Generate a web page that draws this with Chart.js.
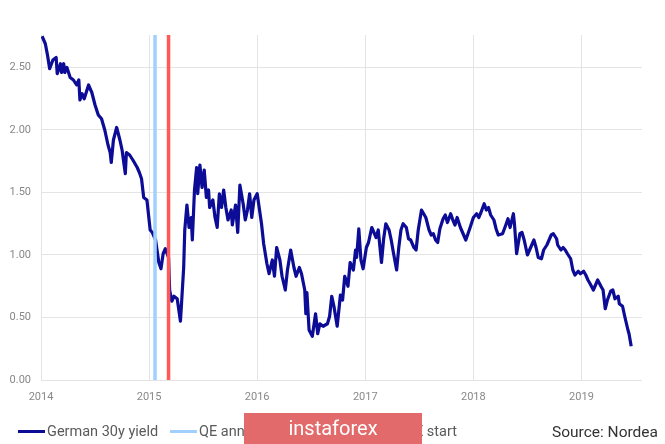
<!DOCTYPE html>
<html>
<head>
<meta charset="utf-8">
<title>German 30y yield</title>
<script src="https://cdn.jsdelivr.net/npm/chart.js@4.4.1/dist/chart.umd.min.js"></script>
<style>
    html, body { margin: 0; padding: 0; background: #fff; }
    #wrap { position: relative; width: 665px; height: 444px; overflow: hidden; font-family: Roboto, "Noto Sans", sans-serif; }
    #chart { position: absolute; left: 0; top: 0; }
    .legend-item { position: absolute; top: 421px; height: 20px; display: flex; align-items: center; font-size: 14.5px; color: #5a5a5a; white-space: nowrap; }
    .swatch { width: 27px; height: 3px; margin-right: 2px; }
    #source { position: absolute; right: 7px; top: 421px; line-height: 22px; font-size: 15.5px; color: #333; }
    #badge { position: absolute; left: 244px; top: 413px; width: 178px; height: 31px; line-height: 30px; background: #e26a6a; color: #fff; font-size: 20px; text-align: center; }
</style>
</head>
<body>
<div id="wrap">
    <canvas id="chart" width="665" height="444"></canvas>
    <div id="legend"></div>
    <div id="source">Source: Nordea</div>
    <div id="badge">instaforex</div>
</div>
<script>
// German 30y yield (decimal year, %)
const yieldDates = [
    2014.01, 2014.04, 2014.06, 2014.08, 2014.11, 2014.14, 2014.15, 2014.18, 2014.19, 2014.21,
    2014.22, 2014.24, 2014.27, 2014.30, 2014.33, 2014.35, 2014.36, 2014.38, 2014.40, 2014.44,
    2014.47, 2014.50, 2014.53, 2014.56, 2014.59, 2014.62, 2014.64, 2014.65, 2014.67, 2014.70,
    2014.73, 2014.75, 2014.78, 2014.79, 2014.82, 2014.85, 2014.89, 2014.91, 2014.93, 2014.95,
    2014.98, 2015.01, 2015.03, 2015.06, 2015.09, 2015.11, 2015.13, 2015.15, 2015.18, 2015.19,
    2015.21, 2015.23, 2015.26, 2015.29, 2015.30, 2015.32, 2015.33, 2015.35, 2015.37, 2015.39,
    2015.40, 2015.42, 2015.44, 2015.45, 2015.47, 2015.49, 2015.51, 2015.53, 2015.55, 2015.56,
    2015.59, 2015.61, 2015.63, 2015.65, 2015.67, 2015.69, 2015.71, 2015.73, 2015.76, 2015.77,
    2015.80, 2015.82, 2015.84, 2015.87, 2015.89, 2015.91, 2015.93, 2015.95, 2015.97, 2016.00,
    2016.02, 2016.04, 2016.06, 2016.09, 2016.11, 2016.14, 2016.16, 2016.18, 2016.21, 2016.23,
    2016.26, 2016.28, 2016.31, 2016.34, 2016.36, 2016.39, 2016.41, 2016.44, 2016.45, 2016.46,
    2016.48, 2016.51, 2016.54, 2016.56, 2016.58, 2016.61, 2016.65, 2016.67, 2016.69, 2016.71,
    2016.74, 2016.77, 2016.79, 2016.81, 2016.84, 2016.86, 2016.89, 2016.91, 2016.92, 2016.94,
    2016.96, 2016.98, 2017.01, 2017.03, 2017.06, 2017.08, 2017.10, 2017.12, 2017.15, 2017.17,
    2017.19, 2017.22, 2017.24, 2017.26, 2017.29, 2017.31, 2017.33, 2017.35, 2017.38, 2017.40,
    2017.42, 2017.45, 2017.47, 2017.49, 2017.52, 2017.54, 2017.56, 2017.59, 2017.61, 2017.63,
    2017.65, 2017.67, 2017.69, 2017.72, 2017.74, 2017.76, 2017.79, 2017.81, 2017.83, 2017.85,
    2017.88, 2017.90, 2017.93, 2017.97, 2018.00, 2018.03, 2018.05, 2018.07, 2018.10, 2018.12,
    2018.14, 2018.16, 2018.19, 2018.21, 2018.23, 2018.27, 2018.30, 2018.32, 2018.34, 2018.37,
    2018.38, 2018.40, 2018.43, 2018.45, 2018.47, 2018.50, 2018.52, 2018.54, 2018.56, 2018.58,
    2018.60, 2018.63, 2018.65, 2018.68, 2018.70, 2018.72, 2018.74, 2018.77, 2018.78, 2018.81,
    2018.83, 2018.85, 2018.87, 2018.90, 2018.92, 2018.94, 2018.97, 2018.99, 2019.02, 2019.04,
    2019.06, 2019.08, 2019.11, 2019.13, 2019.15, 2019.18, 2019.20, 2019.22, 2019.24, 2019.27,
    2019.29, 2019.31, 2019.34, 2019.35, 2019.38, 2019.40, 2019.43, 2019.44, 2019.46
];
const yieldValues = [
    2.75, 2.69, 2.60, 2.49, 2.56, 2.58, 2.45, 2.53, 2.46, 2.53,
    2.46, 2.50, 2.42, 2.40, 2.36, 2.40, 2.24, 2.29, 2.25, 2.36,
    2.30, 2.20, 2.12, 2.09, 2.00, 1.88, 1.82, 1.74, 1.92, 2.02,
    1.92, 1.84, 1.65, 1.82, 1.80, 1.76, 1.70, 1.66, 1.61, 1.46,
    1.44, 1.20, 1.18, 1.12, 0.94, 0.89, 1.01, 1.05, 0.98, 0.72,
    0.63, 0.67, 0.65, 0.47, 0.61, 0.90, 1.20, 1.40, 1.22, 1.30,
    1.12, 1.52, 1.70, 1.49, 1.72, 1.54, 1.68, 1.46, 1.52, 1.38,
    1.44, 1.30, 1.22, 1.49, 1.38, 1.52, 1.38, 1.28, 1.36, 1.24,
    1.40, 1.18, 1.56, 1.41, 1.28, 1.36, 1.49, 1.30, 1.44, 1.49,
    1.37, 1.25, 1.09, 0.93, 0.85, 0.96, 0.83, 1.06, 0.96, 0.83,
    0.72, 0.88, 1.04, 0.90, 0.83, 0.90, 0.85, 0.72, 0.53, 0.70,
    0.40, 0.35, 0.53, 0.37, 0.45, 0.43, 0.45, 0.51, 0.67, 0.59,
    0.43, 0.68, 0.64, 0.83, 0.75, 0.94, 0.88, 1.04, 0.98, 1.21,
    0.96, 0.89, 1.06, 1.10, 1.22, 1.18, 1.14, 1.20, 0.94, 1.13,
    1.25, 1.20, 1.12, 1.02, 0.88, 1.06, 1.20, 1.25, 1.22, 1.13,
    1.12, 1.06, 1.04, 1.20, 1.36, 1.33, 1.30, 1.20, 1.16, 1.17,
    1.12, 1.10, 1.21, 1.29, 1.32, 1.26, 1.33, 1.28, 1.24, 1.30,
    1.22, 1.18, 1.12, 1.22, 1.30, 1.33, 1.30, 1.34, 1.41, 1.36,
    1.38, 1.32, 1.28, 1.21, 1.16, 1.17, 1.24, 1.29, 1.22, 1.33,
    1.25, 1.01, 1.17, 1.18, 1.12, 1.00, 1.04, 1.08, 1.12, 1.06,
    0.98, 0.97, 1.04, 1.08, 1.12, 1.16, 1.17, 1.13, 1.08, 1.04,
    1.06, 1.04, 1.01, 0.97, 0.88, 0.84, 0.87, 0.85, 0.87, 0.84,
    0.80, 0.77, 0.72, 0.76, 0.80, 0.75, 0.72, 0.57, 0.64, 0.71,
    0.72, 0.65, 0.67, 0.61, 0.59, 0.51, 0.40, 0.37, 0.27
];

// ECB QE dates as decimal years (22 Jan 2015, 9 Mar 2015)
const qeAnnouncement = 2015.055;
const qeStart = 2015.18;

const yearTicks = [2014, 2015, 2016, 2017, 2018, 2019];
const yieldTicks = [0, 0.5, 1, 1.5, 2, 2.5];

const xMin = 2014;
const xMax = 2019.56;
const yMin = 0;
const yMax = 2.76;

const seriesNames = ["German 30y yield", "QE announcement", "QE start"];
const seriesColors = ["#0c0c96", "#9fd0ff", "#ff5858"];

const gridColor = "#e4e4e4";
const tickFont = { family: "Roboto", size: 11 };

function verticalLine(x) {
    return [{ x: x, y: yMin }, { x: x, y: yMax }];
}

const ctx = document.getElementById("chart").getContext("2d");
new Chart(ctx, {
    type: "line",
    data: {
        datasets: [
            {
                label: seriesNames[0],
                data: yieldDates.map((d, i) => ({ x: d, y: yieldValues[i] })),
                borderColor: seriesColors[0],
                borderWidth: 3.2,
                pointRadius: 0,
                tension: 0,
                borderJoinStyle: "round",
                order: 2
            },
            {
                label: seriesNames[1],
                data: verticalLine(qeAnnouncement),
                borderColor: seriesColors[1],
                borderWidth: 3.5,
                pointRadius: 0,
                order: 1
            },
            {
                label: seriesNames[2],
                data: verticalLine(qeStart),
                borderColor: seriesColors[2],
                borderWidth: 3.5,
                pointRadius: 0,
                order: 1
            }
        ]
    },
    options: {
        responsive: false,
        animation: false,
        layout: { padding: { top: 35, right: 23, bottom: 34, left: 0 } },
        plugins: {
            legend: { display: false },
            tooltip: { enabled: false }
        },
        scales: {
            x: {
                type: "linear",
                min: xMin,
                max: xMax,
                afterBuildTicks: scale => { scale.ticks = yearTicks.map(v => ({ value: v })); },
                afterFit: scale => { scale.height = 30; },
                grid: { color: gridColor, drawTicks: false },
                border: { display: false },
                ticks: {
                    padding: 11,
                    color: "#888",
                    font: tickFont,
                    maxRotation: 0,
                    callback: value => String(value)
                }
            },
            y: {
                min: yMin,
                max: yMax,
                afterBuildTicks: scale => { scale.ticks = yieldTicks.map(v => ({ value: v })); },
                afterFit: scale => { scale.width = 41; },
                grid: { color: gridColor, drawTicks: false },
                border: { display: false },
                ticks: {
                    padding: 10,
                    color: "#888",
                    font: tickFont,
                    callback: value => Number(value).toFixed(2)
                }
            }
        }
    }
});

// Legend along the bottom, the middle item is partly hidden by the badge
const legendLeft = [18, 170, 376];
const legend = document.getElementById("legend");
seriesNames.forEach((name, i) => {
    const item = document.createElement("div");
    item.className = "legend-item";
    item.style.left = legendLeft[i] + "px";
    const swatch = document.createElement("span");
    swatch.className = "swatch";
    swatch.style.background = seriesColors[i];
    const text = document.createElement("span");
    text.textContent = name;
    item.appendChild(swatch);
    item.appendChild(text);
    legend.appendChild(item);
});
</script>
</body>
</html>
